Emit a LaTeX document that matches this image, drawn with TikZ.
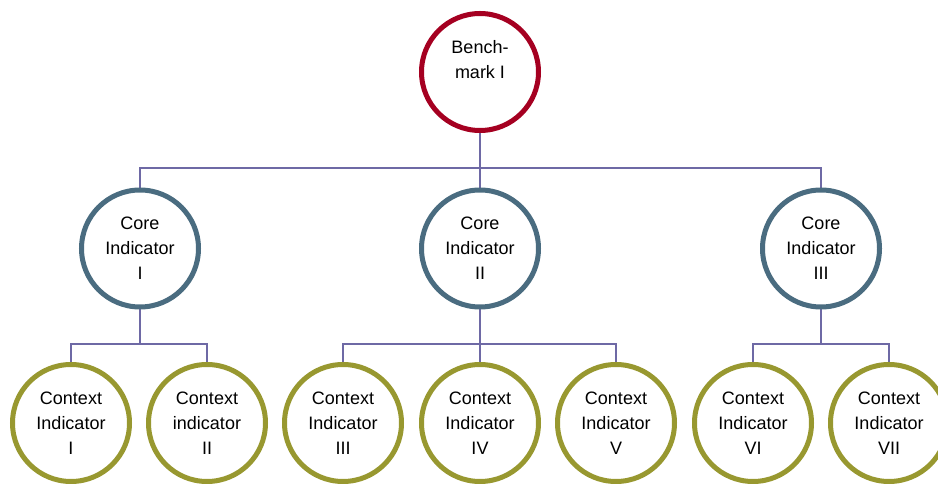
\documentclass[tikz,border=0pt]{standalone}
\usepackage{fontspec}
\setmainfont{Liberation Sans}
\definecolor{benchred}{RGB}{165,0,33}
\definecolor{coreblue}{RGB}{74,108,128}
\definecolor{ctxolive}{RGB}{152,152,48}
\definecolor{connline}{RGB}{110,105,165}
\tikzset{
  ring/.style={circle, line width=5pt, minimum size=117pt, inner sep=0pt, align=center,
    font=\fontsize{18}{25}\selectfont, fill=white},
  bench/.style={ring, draw=benchred},
  corering/.style={ring, draw=coreblue},
  ctxring/.style={ring, draw=ctxolive},
  conn/.style={draw=connline, line width=1.6pt}
}
\begin{document}
\begin{tikzpicture}[x=1pt,y=1pt]
\useasboundingbox (0,0) rectangle (938,487);
\coordinate (bar1) at (0,319);
\coordinate (bar2) at (0,143);
% connectors first (behind)
\path
  (480,415) coordinate (pb)
  (140,238.5) coordinate (pc1) (480,238.5) coordinate (pc2) (821,238.5) coordinate (pc3)
  (71,64) coordinate (px1) (207,64) coordinate (px2) (343,64) coordinate (px3)
  (480,64) coordinate (px4) (616,64) coordinate (px5) (753,64) coordinate (px6) (889,64) coordinate (px7);
\draw[conn] (pb) -- (pb |- bar1);
\draw[conn] (pc1) |- (pc3 |- bar1) -- (pc3);
\draw[conn] (pc2) -- (pc2 |- bar1);
\draw[conn] (pc1) -- (pc1 |- bar2);
\draw[conn] (px1) |- (px2 |- bar2) -- (px2);
\draw[conn] (pc2) -- (pc2 |- bar2);
\draw[conn] (px3) |- (px5 |- bar2) -- (px5);
\draw[conn] (px4) -- (px4 |- bar2);
\draw[conn] (pc3) -- (pc3 |- bar2);
\draw[conn] (px6) |- (px7 |- bar2) -- (px7);
% nodes
\node[bench] (b) at (pb) {Bench-\\mark I\\\mbox{}};
\node[corering] (c1) at (pc1) {Core\\Indicator\\I};
\node[corering] (c2) at (pc2) {Core\\Indicator\\II};
\node[corering] (c3) at (pc3) {Core\\Indicator\\III};
\node[ctxring] (x1) at (px1) {Context\\Indicator\\I};
\node[ctxring] (x2) at (px2) {Context\\indicator\\II};
\node[ctxring] (x3) at (px3) {Context\\Indicator\\III};
\node[ctxring] (x4) at (px4) {Context\\Indicator\\IV};
\node[ctxring] (x5) at (px5) {Context\\Indicator\\V};
\node[ctxring] (x6) at (px6) {Context\\Indicator\\VI};
\node[ctxring] (x7) at (px7) {Context\\Indicator\\VII};
\end{tikzpicture}
\end{document}
